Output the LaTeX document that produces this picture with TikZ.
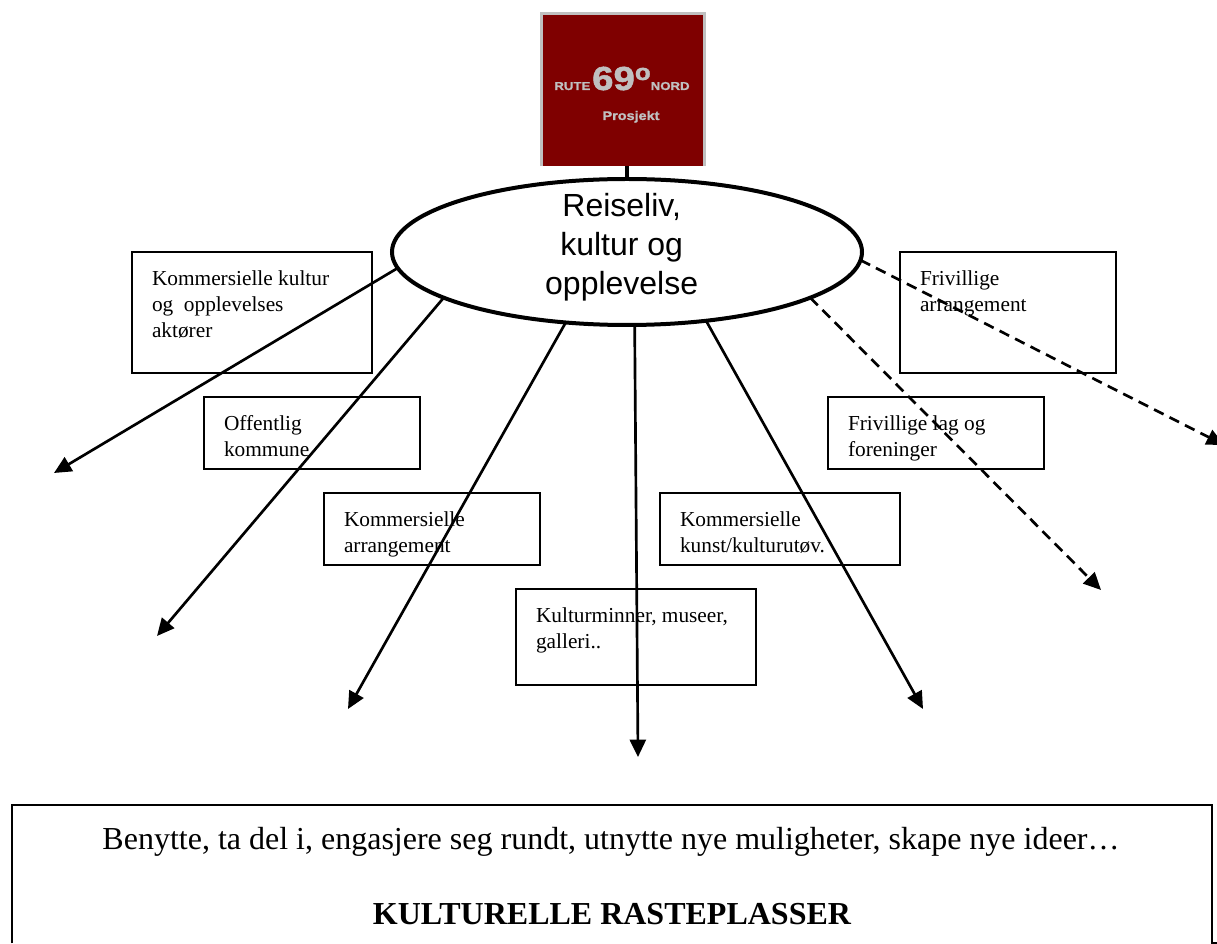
\documentclass[tikz,border=0pt]{standalone}
\usepackage{fontspec}
\setmainfont{Liberation Serif}
\newfontfamily\themefont{Liberation Sans}
\newfontfamily\logofont[FakeStretch=1.15,BoldFeatures={FakeBold=1.5,FakeStretch=1.15}]{Liberation Sans}
\usetikzlibrary{shapes.geometric, arrows.meta, positioning}

\definecolor{logored}{HTML}{7F0000}
\definecolor{logogrey}{HTML}{C0C0C0}

\newcommand{\boxtext}[3]{\parbox[c][#2][t]{#1}{\leftskip=15pt\rightskip=0pt plus 1fil\parindent=0pt\vspace*{14pt}\fontsize{16}{19.5}\selectfont #3}}

\tikzset{
    infobox/.style={draw, line width=1.5pt, inner sep=0pt, outer sep=0pt, fill=white},
    logotext/.style={text=logogrey, inner sep=0pt, font=\logofont\bfseries},
    mainarrow/.style={-{Triangle[length=13pt,width=12pt]}, line width=2pt},
    dasharrow/.style={mainarrow, dash pattern=on 8pt off 5pt},
}

\begin{document}
\begin{tikzpicture}[x=0.75pt, y=-0.75pt]
    \useasboundingbox (0,0) rectangle (1217,944);

    % logo
    \node (logo) [fill=logored, minimum width=122.25pt, minimum height=114.75pt, inner sep=0pt, outer sep=0pt] at (623,90) {};
    \draw [logogrey, line width=2.2pt] (logo.south west) |- (logo.north east) -- (logo.south east);
    \node (logotitle) [logotext, anchor=base] at (622,90) {\fontsize{8.6}{12}\selectfont RUTE\,\fontsize{25}{30}\selectfont 69\raisebox{7.5pt}{\fontsize{17}{20}\selectfont o}\fontsize{8.6}{12}\selectfont NORD};
    \node (logosub) [logotext, anchor=base] at (631,120) {\fontsize{9.4}{13}\selectfont Prosjekt};

    % theme
    \node (theme) [draw, ellipse, line width=3pt, fill=white, inner sep=0pt, outer sep=0pt, minimum width=352.5pt, minimum height=109.5pt] at (627,252)
        {\makebox[0pt]{\hspace{-8pt}\smash{\raisebox{-3pt}{\themefont\fontsize{24}{29}\selectfont\begin{tabular}{@{}c@{}}Reiseliv,\\kultur og\\opplevelse\end{tabular}}}}};
    \coordinate (stem) at (logo.south -| theme.north);
    \draw [line width=3pt] (stem) -- (theme.north);

    % boxes
    \node (actors) [infobox, minimum width=180pt, minimum height=90.75pt] at (252,312.5) {\boxtext{180pt}{90.75pt}{Kommersielle kultur\\og\ \ opplevelses\\aktører}};
    \node (public) [infobox, minimum width=162pt, minimum height=54pt] at (312,433) {\boxtext{162pt}{54pt}{Offentlig\\kommune}};
    \node (events) [infobox, minimum width=162pt, minimum height=54pt] at (432,529) {\boxtext{162pt}{54pt}{Kommersielle\\arrangement}};
    \node (museums) [infobox, minimum width=180pt, minimum height=72pt] at (636,637) {\boxtext{180pt}{72pt}{Kulturminner, museer,\\galleri..}};
    \node (artists) [infobox, minimum width=180pt, minimum height=54pt] at (780,529) {\boxtext{180pt}{54pt}{Kommersielle\\kunst/kulturutøv.}};
    \node (clubs) [infobox, minimum width=162pt, minimum height=54pt] at (936,433) {\boxtext{162pt}{54pt}{Frivillige lag og\\foreninger}};
    \node (volunteer) [infobox, minimum width=162pt, minimum height=90.75pt] at (1008,312.5) {\boxtext{162pt}{90.75pt}{Frivillige\\arrangement}};

    % free arrow ends
    \coordinate (end1) at (54,473);
    \coordinate (end2) at (157,636);
    \coordinate (end3) at (348,709);
    \coordinate (end4) at (638,757);
    \coordinate (end5) at (923,709);
    \coordinate (end6) at (1101,590);
    \coordinate (end7) at (1224,445);

    \path [mainarrow]
        (theme.184.5) edge (end1)
        (theme.194.8) edge (end2)
        (theme.229.3) edge (end3)
        (theme.276) edge (end4)
        (theme.319.5) edge (end5)
        ;
    \path [dasharrow]
        (theme.346.2) edge (end6)
        (theme.358.5) edge (end7)
        ;

    % bottom box
    \node (banner) [inner sep=0pt, minimum width=900pt, minimum height=103.5pt] at (612,874) {};
    \draw [line width=1.5pt] (banner.south west) |- (banner.north east) -- (banner.south east) -- ++(10,0);
    \node (bannertop) [inner sep=0pt, anchor=base, font=\fontsize{24}{28}\selectfont] at (611,849) {Benytte, ta del i, engasjere seg rundt, utnytte nye muligheter, skape nye ideer…};
    \node (bannerbold) [inner sep=0pt, anchor=base, font=\fontsize{24}{28}\selectfont\bfseries] at (612,924) {KULTURELLE RASTEPLASSER};
\end{tikzpicture}
\end{document}
